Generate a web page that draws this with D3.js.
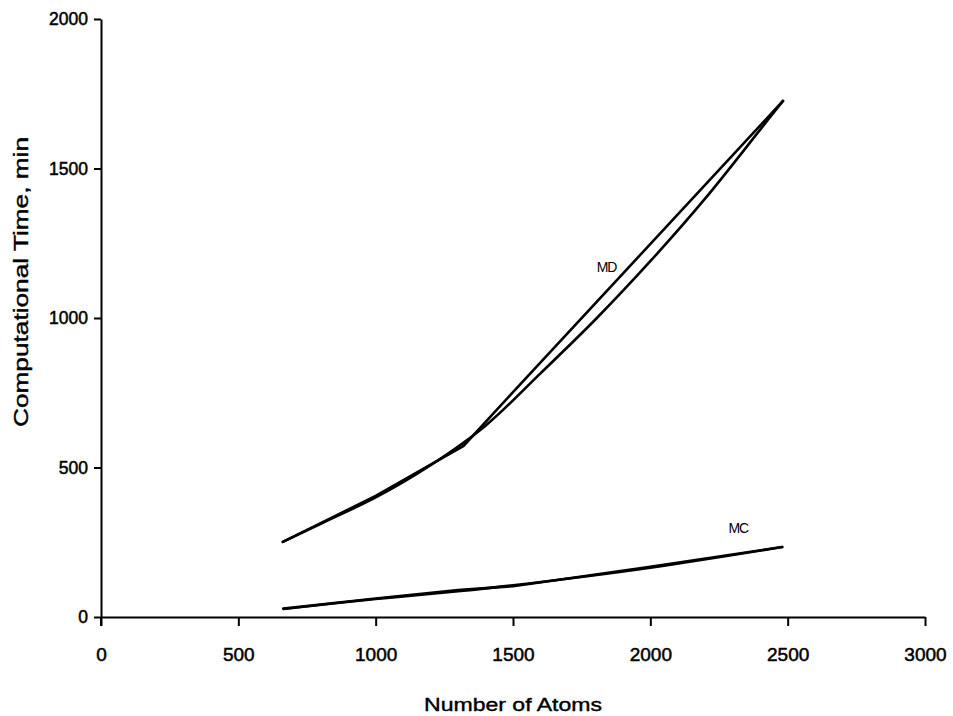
<!DOCTYPE html>
<html><head><meta charset="utf-8">
<script src="https://cdn.jsdelivr.net/npm/d3@7"></script>
<style>body{margin:0;background:#fff}svg{display:block}text{font-family:"Liberation Sans",Arial,sans-serif;fill:#000}</style>
</head><body>
<svg id="c" width="953" height="716"></svg>
<script>
// Data
const mdAtoms = [662, 1000, 1320, 1500, 2483];
const mdTime  = [251, 405, 572, 752, 1726];
const mdFitAtoms = [662, 800, 1000, 1200, 1400, 1600, 1800, 2000, 2200, 2400, 2483];
const mdFitTime  = [251, 312, 400, 508, 640, 815, 995, 1190, 1400, 1630, 1726];
const mcAtoms = [664, 1000, 1300, 1500, 2000, 2480];
const mcTime  = [28, 62, 90, 103, 168, 234];
const mcFitAtoms = [664, 1000, 1300, 1500, 2000, 2480];
const mcFitTime  = [27, 60, 86, 106, 165, 234];
const xTicks = [0, 500, 1000, 1500, 2000, 2500, 3000];
const yTicks = [0, 500, 1000, 1500, 2000];

const svg = d3.select("#c");
const x = d3.scaleLinear().domain([0, 3000]).range([101, 925]);
const y = d3.scaleLinear().domain([0, 2000]).range([617, 19]);
const fmt = d3.format("d");

// axes
const xa = svg.append("g").attr("transform", "translate(0,617)")
  .call(d3.axisBottom(x).tickValues(xTicks).tickFormat(fmt).tickSize(9).tickSizeOuter(0).tickPadding(22));
const ya = svg.append("g").attr("transform", "translate(101,0)")
  .call(d3.axisLeft(y).tickValues(yTicks).tickFormat(fmt).tickSize(7).tickSizeOuter(0).tickPadding(6));
[xa, ya].forEach(g => {
  g.select(".domain").attr("stroke", "#000").attr("stroke-width", 2);
  g.selectAll(".tick line").attr("stroke", "#000").attr("stroke-width", 2);
  g.selectAll(".tick text").attr("fill", "#000")
    .attr("stroke", "#000").attr("stroke-width", 0.5);
});
xa.selectAll(".tick text").attr("font-size", 19);
ya.selectAll(".tick text").attr("font-size", 17.5);
// y-axis tick crossing below origin
svg.append("line").attr("x1", x(0)).attr("x2", x(0)).attr("y1", y(0)).attr("y2", y(0) + 9)
  .attr("stroke", "#000").attr("stroke-width", 2);

const line = d3.line().x(d => x(d[0])).y(d => y(d[1]));
const smooth = d3.line().x(d => x(d[0])).y(d => y(d[1])).curve(d3.curveCatmullRom.alpha(0.5));
const zip = (a, b) => a.map((v, i) => [v, b[i]]);

function draw(gen, pts) {
  svg.append("path").attr("d", gen(pts)).attr("fill", "none")
    .attr("stroke", "#000").attr("stroke-width", 2.6).attr("stroke-linecap", "round");
}
draw(line, zip(mdAtoms, mdTime));
draw(smooth, zip(mdFitAtoms, mdFitTime));
draw(line, zip(mcAtoms, mcTime));
draw(smooth, zip(mcFitAtoms, mcFitTime));

// series labels
svg.append("text").attr("x", x(1840)).attr("y", y(1155)).attr("text-anchor", "middle")
  .attr("font-size", 14).attr("letter-spacing", -1.2).text("MD");
svg.append("text").attr("x", x(2320)).attr("y", y(282)).attr("text-anchor", "middle")
  .attr("font-size", 14).attr("letter-spacing", -1.2).text("MC");

// axis titles
svg.append("text").attr("x", 513).attr("y", 711).attr("text-anchor", "middle")
  .attr("font-size", 19).attr("stroke", "#000").attr("stroke-width", 0.4)
  .attr("textLength", 178).attr("lengthAdjust", "spacingAndGlyphs").text("Number of Atoms");
svg.append("text").attr("transform", "translate(28,282) rotate(-90)").attr("text-anchor", "middle")
  .attr("font-size", 20).attr("stroke", "#000").attr("stroke-width", 0.4)
  .attr("textLength", 290).attr("lengthAdjust", "spacingAndGlyphs")
  .text("Computational Time, min");
</script>
</body></html>
